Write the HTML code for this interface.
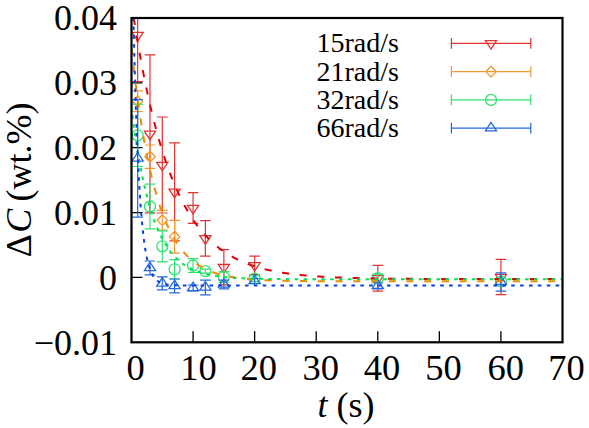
<!DOCTYPE html>
<html><head><meta charset="utf-8"><style>
html,body{margin:0;padding:0;background:#fff;}
body{width:589px;height:428px;overflow:hidden;font-family:"Liberation Serif",serif;}
svg{display:block;}
</style></head><body>
<svg width="589" height="428" viewBox="0 0 589 428">
<defs><clipPath id="clip"><rect x="131.5" y="18.0" width="431.0" height="324.3"/></clipPath></defs>
<rect width="589" height="428" fill="#fff"/>
<path d="M193.07 342.3V331.3 M254.64 342.3V331.3 M316.21 342.3V331.3 M377.79 342.3V331.3 M439.36 342.3V331.3 M500.93 342.3V331.3 M131.5 82.86H142.5 M131.5 147.72H142.5 M131.5 212.58H142.5 M131.5 277.44H142.5" stroke="#000" stroke-width="1.3" fill="none"/>
<g clip-path="url(#clip)">
<path d="M137.66 18.00V81.50M132.36 81.50H142.96" stroke="#e03434" stroke-width="1.2" fill="none"/>
<path d="M132.06 32.30H143.26L137.66 40.80Z" stroke="#e03434" stroke-width="1.3" fill="none"/>
<path d="M149.97 54.90V212.90M144.67 54.90H155.27M144.67 212.90H155.27" stroke="#e03434" stroke-width="1.2" fill="none"/>
<path d="M144.37 131.20H155.57L149.97 139.70Z" stroke="#e03434" stroke-width="1.3" fill="none"/>
<path d="M162.29 117.00V213.00M156.99 117.00H167.59M156.99 213.00H167.59" stroke="#e03434" stroke-width="1.2" fill="none"/>
<path d="M156.69 162.30H167.89L162.29 170.80Z" stroke="#e03434" stroke-width="1.3" fill="none"/>
<path d="M174.60 142.90V240.90M169.30 142.90H179.90M169.30 240.90H179.90" stroke="#e03434" stroke-width="1.2" fill="none"/>
<path d="M169.00 189.20H180.20L174.60 197.70Z" stroke="#e03434" stroke-width="1.3" fill="none"/>
<path d="M193.07 192.60V223.40M187.77 192.60H198.37M187.77 223.40H198.37" stroke="#e03434" stroke-width="1.2" fill="none"/>
<path d="M187.47 205.30H198.67L193.07 213.80Z" stroke="#e03434" stroke-width="1.3" fill="none"/>
<path d="M205.39 220.70V256.10M200.09 220.70H210.69M200.09 256.10H210.69" stroke="#e03434" stroke-width="1.2" fill="none"/>
<path d="M199.79 235.70H210.99L205.39 244.20Z" stroke="#e03434" stroke-width="1.3" fill="none"/>
<path d="M223.86 249.60V284.80M218.56 249.60H229.16M218.56 284.80H229.16" stroke="#e03434" stroke-width="1.2" fill="none"/>
<path d="M218.26 264.50H229.46L223.86 273.00Z" stroke="#e03434" stroke-width="1.3" fill="none"/>
<path d="M254.64 256.10V274.50M249.34 256.10H259.94M249.34 274.50H259.94" stroke="#e03434" stroke-width="1.2" fill="none"/>
<path d="M249.04 262.60H260.24L254.64 271.10Z" stroke="#e03434" stroke-width="1.3" fill="none"/>
<path d="M377.79 265.30V291.10M372.49 265.30H383.09M372.49 291.10H383.09" stroke="#e03434" stroke-width="1.2" fill="none"/>
<path d="M372.19 275.50H383.39L377.79 284.00Z" stroke="#e03434" stroke-width="1.3" fill="none"/>
<path d="M500.93 259.40V294.60M495.63 259.40H506.23M495.63 294.60H506.23" stroke="#e03434" stroke-width="1.2" fill="none"/>
<path d="M495.33 274.30H506.53L500.93 282.80Z" stroke="#e03434" stroke-width="1.3" fill="none"/>
<path d="M137.66 90.90V111.50M132.36 90.90H142.96M132.36 111.50H142.96" stroke="#f09a30" stroke-width="1.2" fill="none"/>
<path d="M137.66 95.80L142.86 101.20L137.66 106.60L132.46 101.20Z" stroke="#f09a30" stroke-width="1.3" fill="none"/>
<path d="M149.97 145.00V168.40M144.67 145.00H155.27M144.67 168.40H155.27" stroke="#f09a30" stroke-width="1.2" fill="none"/>
<path d="M149.97 151.30L155.17 156.70L149.97 162.10L144.77 156.70Z" stroke="#f09a30" stroke-width="1.3" fill="none"/>
<path d="M162.29 210.40V230.00M156.99 210.40H167.59M156.99 230.00H167.59" stroke="#f09a30" stroke-width="1.2" fill="none"/>
<path d="M162.29 214.80L167.49 220.20L162.29 225.60L157.09 220.20Z" stroke="#f09a30" stroke-width="1.3" fill="none"/>
<path d="M174.60 220.30V253.10M169.30 220.30H179.90M169.30 253.10H179.90" stroke="#f09a30" stroke-width="1.2" fill="none"/>
<path d="M174.60 231.30L179.80 236.70L174.60 242.10L169.40 236.70Z" stroke="#f09a30" stroke-width="1.3" fill="none"/>
<path d="M137.66 104.10V166.50M132.36 104.10H142.96M132.36 166.50H142.96" stroke="#30e072" stroke-width="1.2" fill="none"/>
<circle cx="137.66" cy="135.30" r="5.5" stroke="#30e072" stroke-width="1.3" fill="none"/>
<path d="M149.97 184.20V228.80M144.67 184.20H155.27M144.67 228.80H155.27" stroke="#30e072" stroke-width="1.2" fill="none"/>
<circle cx="149.97" cy="206.50" r="5.5" stroke="#30e072" stroke-width="1.3" fill="none"/>
<path d="M162.29 230.80V261.80M156.99 230.80H167.59M156.99 261.80H167.59" stroke="#30e072" stroke-width="1.2" fill="none"/>
<circle cx="162.29" cy="246.30" r="5.5" stroke="#30e072" stroke-width="1.3" fill="none"/>
<path d="M174.60 259.60V279.00M169.30 259.60H179.90M169.30 279.00H179.90" stroke="#30e072" stroke-width="1.2" fill="none"/>
<circle cx="174.60" cy="269.30" r="5.5" stroke="#30e072" stroke-width="1.3" fill="none"/>
<path d="M193.07 258.60V272.40M187.77 258.60H198.37M187.77 272.40H198.37" stroke="#30e072" stroke-width="1.2" fill="none"/>
<circle cx="193.07" cy="265.50" r="5.5" stroke="#30e072" stroke-width="1.3" fill="none"/>
<path d="M205.39 269.10V273.10M200.09 269.10H210.69M200.09 273.10H210.69" stroke="#30e072" stroke-width="1.2" fill="none"/>
<circle cx="205.39" cy="271.10" r="5.5" stroke="#30e072" stroke-width="1.3" fill="none"/>
<path d="M223.86 271.70V282.30M218.56 271.70H229.16M218.56 282.30H229.16" stroke="#30e072" stroke-width="1.2" fill="none"/>
<circle cx="223.86" cy="277.00" r="5.5" stroke="#30e072" stroke-width="1.3" fill="none"/>
<path d="M254.64 275.60V281.60M249.34 275.60H259.94M249.34 281.60H259.94" stroke="#30e072" stroke-width="1.2" fill="none"/>
<circle cx="254.64" cy="278.60" r="5.5" stroke="#30e072" stroke-width="1.3" fill="none"/>
<path d="M377.79 274.20V282.20M372.49 274.20H383.09M372.49 282.20H383.09" stroke="#30e072" stroke-width="1.2" fill="none"/>
<circle cx="377.79" cy="278.20" r="5.5" stroke="#30e072" stroke-width="1.3" fill="none"/>
<path d="M500.93 278.40V284.40M495.63 278.40H506.23M495.63 284.40H506.23" stroke="#30e072" stroke-width="1.2" fill="none"/>
<circle cx="500.93" cy="281.40" r="5.5" stroke="#30e072" stroke-width="1.3" fill="none"/>
<path d="M137.66 99.70V217.20M132.36 99.70H142.96M132.36 217.20H142.96" stroke="#2468dc" stroke-width="1.2" fill="none"/>
<path d="M132.06 161.15H143.26L137.66 152.65Z" stroke="#2468dc" stroke-width="1.3" fill="none"/>
<path d="M149.97 261.00V274.80M144.67 261.00H155.27M144.67 274.80H155.27" stroke="#2468dc" stroke-width="1.2" fill="none"/>
<path d="M144.37 270.60H155.57L149.97 262.10Z" stroke="#2468dc" stroke-width="1.3" fill="none"/>
<path d="M162.29 276.90V289.90M156.99 276.90H167.59M156.99 289.90H167.59" stroke="#2468dc" stroke-width="1.2" fill="none"/>
<path d="M156.69 286.10H167.89L162.29 277.60Z" stroke="#2468dc" stroke-width="1.3" fill="none"/>
<path d="M174.60 279.00V292.80M169.30 279.00H179.90M169.30 292.80H179.90" stroke="#2468dc" stroke-width="1.2" fill="none"/>
<path d="M169.00 288.60H180.20L174.60 280.10Z" stroke="#2468dc" stroke-width="1.3" fill="none"/>
<path d="M193.07 285.00V291.00M187.77 285.00H198.37M187.77 291.00H198.37" stroke="#2468dc" stroke-width="1.2" fill="none"/>
<path d="M187.47 290.70H198.67L193.07 282.20Z" stroke="#2468dc" stroke-width="1.3" fill="none"/>
<path d="M205.39 280.20V294.80M200.09 280.20H210.69M200.09 294.80H210.69" stroke="#2468dc" stroke-width="1.2" fill="none"/>
<path d="M199.79 290.20H210.99L205.39 281.70Z" stroke="#2468dc" stroke-width="1.3" fill="none"/>
<path d="M223.86 280.20V288.80M218.56 280.20H229.16M218.56 288.80H229.16" stroke="#2468dc" stroke-width="1.2" fill="none"/>
<path d="M218.26 287.20H229.46L223.86 278.70Z" stroke="#2468dc" stroke-width="1.3" fill="none"/>
<path d="M254.64 278.50V283.50M249.34 278.50H259.94M249.34 283.50H259.94" stroke="#2468dc" stroke-width="1.2" fill="none"/>
<path d="M249.04 283.70H260.24L254.64 275.20Z" stroke="#2468dc" stroke-width="1.3" fill="none"/>
<path d="M377.79 283.00V288.60M372.49 283.00H383.09M372.49 288.60H383.09" stroke="#2468dc" stroke-width="1.2" fill="none"/>
<path d="M372.19 288.50H383.39L377.79 280.00Z" stroke="#2468dc" stroke-width="1.3" fill="none"/>
<path d="M500.93 272.85V291.15M495.63 272.85H506.23M495.63 291.15H506.23" stroke="#2468dc" stroke-width="1.2" fill="none"/>
<path d="M495.33 284.70H506.53L500.93 276.20Z" stroke="#2468dc" stroke-width="1.3" fill="none"/>
</g>
<path d="M133.83 18.00 133.92 18.59 134.02 19.18 134.11 19.78 134.20 20.37 134.29 20.96 134.38 21.55 134.47 22.15 134.57 22.74 134.66 23.33 134.75 23.92 134.85 24.51 134.94 25.11 135.03 25.70 135.13 26.29 135.22 26.88 135.31 27.47 135.41 28.07 135.50 28.66 135.60 29.25 135.69 29.84 135.79 30.43 135.88 31.02 135.98 31.62 136.07 32.21 136.17 32.80 136.27 33.39 136.36 33.98 136.46 34.57 136.56 35.17 136.65 35.76 136.75 36.35 136.85 36.94 136.95 37.53 137.04 38.12 137.14 38.71 137.24 39.30 137.34 39.90 137.44 40.49 137.54 41.08 137.64 41.67 137.74 42.26 137.84 42.85 137.94 43.44 138.04 44.03 138.14 44.62 138.24 45.21 138.34 45.80 138.44 46.39 138.54 46.98 138.65 47.58 138.75 48.17 138.85 48.76 138.95 49.35 139.06 49.94 139.16 50.53 139.26 51.12 139.37 51.71 139.47 52.30 139.58 52.89 139.68 53.48 139.79 54.07 139.89 54.66 140.00 55.25 140.10 55.84 140.21 56.43 140.31 57.02 140.42 57.61 140.53 58.20 140.63 58.79 140.74 59.38 140.85 59.97 140.96 60.55 141.06 61.14 141.17 61.73 141.28 62.32 141.39 62.91 141.50 63.50 141.61 64.09 141.72 64.68 141.83 65.27 141.94 65.86 142.05 66.45 142.16 67.03 142.27 67.62 142.38 68.21 142.50 68.80 142.61 69.39 142.72 69.98 142.83 70.57 142.95 71.15 143.06 71.74 143.17 72.33 143.29 72.92 143.40 73.51 143.52 74.10 143.63 74.68 143.75 75.27 143.86 75.86 143.98 76.45 144.10 77.04 144.21 77.62 144.33 78.21 144.45 78.80 144.56 79.39 144.68 79.97 144.80 80.56 144.92 81.15 145.04 81.74 145.16 82.32 145.28 82.91 145.40 83.50 145.52 84.08 145.64 84.67 145.76 85.26 145.88 85.84 146.00 86.43 146.12 87.02 146.25 87.60 146.37 88.19 146.49 88.78 146.62 89.36 146.74 89.95 146.86 90.53 146.99 91.12 147.11 91.71 147.24 92.29 147.36 92.88 147.49 93.46 147.62 94.05 147.74 94.63 147.87 95.22 148.00 95.81 148.13 96.39 148.26 96.98 148.38 97.56 148.51 98.15 148.64 98.73 148.77 99.32 148.90 99.90 149.03 100.49 149.17 101.07 149.30 101.65 149.43 102.24 149.56 102.82 149.69 103.41 149.83 103.99 149.96 104.57 150.10 105.16 150.23 105.74 150.37 106.33 150.50 106.91 150.64 107.49 150.77 108.08 150.91 108.66 151.05 109.24 151.19 109.83 151.32 110.41 151.46 110.99 151.60 111.57 151.74 112.16 151.88 112.74 152.02 113.32 152.16 113.90 152.30 114.49 152.44 115.07 152.59 115.65 152.73 116.23 152.87 116.81 153.02 117.39 153.16 117.98 153.31 118.56 153.45 119.14 153.60 119.72 153.74 120.30 153.89 120.88 154.04 121.46 154.18 122.04 154.33 122.62 154.48 123.20 154.63 123.78 154.78 124.36 154.93 124.94 155.08 125.52 155.23 126.10 155.38 126.68 155.54 127.26 155.69 127.84 155.84 128.42 156.00 129.00 156.15 129.57 156.31 130.15 156.46 130.73 156.62 131.31 156.78 131.89 156.93 132.47 157.09 133.04 157.25 133.62 157.41 134.20 157.57 134.78 157.73 135.35 157.89 135.93 158.05 136.51 158.21 137.08 158.38 137.66 158.54 138.23 158.70 138.81 158.87 139.39 159.03 139.96 159.20 140.54 159.37 141.11 159.53 141.69 159.70 142.26 159.87 142.84 160.04 143.41 160.21 143.99 160.38 144.56 160.55 145.13 160.72 145.71 160.90 146.28 161.07 146.85 161.24 147.43 161.42 148.00 161.59 148.57 161.77 149.14 161.95 149.72 162.12 150.29 162.30 150.86 162.48 151.43 162.66 152.00 162.84 152.57 163.02 153.14 163.20 153.72 163.38 154.29 163.57 154.86 163.75 155.43 163.94 155.99 164.12 156.56 164.31 157.13 164.50 157.70 164.68 158.27 164.87 158.84 165.06 159.41 165.25 159.97 165.44 160.54 165.64 161.11 165.83 161.68 166.02 162.24 166.22 162.81 166.41 163.37 166.61 163.94 166.81 164.51 167.00 165.07 167.20 165.63 167.40 166.20 167.60 166.76 167.80 167.33 168.01 167.89 168.21 168.45 168.41 169.02 168.62 169.58 168.82 170.14 169.03 170.70 169.24 171.26 169.45 171.82 169.66 172.39 169.87 172.95 170.08 173.51 170.29 174.07 170.51 174.62 170.72 175.18 170.94 175.74 171.15 176.30 171.37 176.86 171.59 177.41 171.81 177.97 172.03 178.53 172.25 179.08 172.48 179.64 172.70 180.19 172.93 180.75 173.15 181.30 173.38 181.86 173.61 182.41 173.84 182.96 174.07 183.51 174.30 184.07 174.53 184.62 174.77 185.17 175.00 185.72 175.24 186.27 175.48 186.82 175.72 187.37 175.96 187.91 176.20 188.46 176.44 189.01 176.68 189.56 176.93 190.10 177.17 190.65 177.42 191.19 177.67 191.74 177.92 192.28 178.17 192.82 178.42 193.37 178.68 193.91 178.93 194.45 179.19 194.99 179.45 195.53 179.71 196.07 179.97 196.61 180.23 197.15 180.49 197.68 180.76 198.22 181.02 198.76 181.29 199.29 181.56 199.83 181.83 200.36 182.10 200.89 182.38 201.43 182.65 201.96 182.93 202.49 183.21 203.02 183.49 203.55 183.77 204.07 184.05 204.60 184.33 205.13 184.62 205.65 184.91 206.18 185.19 206.70 185.48 207.23 185.78 207.75 186.07 208.27 186.37 208.79 186.66 209.31 186.96 209.83 187.26 210.35 187.56 210.86 187.87 211.38 188.17 211.89 188.48 212.41 188.79 212.92 189.10 213.43 189.41 213.94 189.73 214.45 190.04 214.96 190.36 215.46 190.68 215.97 191.00 216.47 191.32 216.98 191.65 217.48 191.98 217.98 192.30 218.48 192.64 218.98 192.97 219.48 193.30 219.97 193.64 220.47 193.98 220.96 194.32 221.45 194.66 221.94 195.00 222.43 195.35 222.92 195.70 223.41 196.05 223.89 196.40 224.38 196.76 224.86 197.11 225.34 197.47 225.82 197.83 226.29 198.19 226.77 198.56 227.25 198.93 227.72 199.29 228.19 199.67 228.66 200.04 229.13 200.41 229.59 200.79 230.06 201.17 230.52 201.55 230.98 201.94 231.44 202.32 231.90 202.71 232.35 203.10 232.80 203.49 233.26 203.89 233.71 204.28 234.15 204.68 234.60 205.09 235.04 205.49 235.48 205.89 235.92 206.30 236.36 206.71 236.80 207.13 237.23 207.54 237.66 207.96 238.09 208.38 238.52 208.80 238.94 209.22 239.37 209.65 239.79 210.08 240.20 210.51 240.62 210.94 241.03 211.37 241.44 211.81 241.85 212.25 242.26 212.69 242.66 213.14 243.07 213.58 243.46 214.03 243.86 214.48 244.25 214.93 244.65 215.39 245.04 215.85 245.42 216.30 245.81 216.77 246.19 217.23 246.57 217.70 246.94 218.16 247.32 218.63 247.69 219.11 248.05 219.58 248.42 220.06 248.78 220.53 249.14 221.02 249.50 221.50 249.85 221.98 250.21 222.47 250.55 222.96 250.90 223.45 251.24 223.94 251.58 224.44 251.92 224.93 252.26 225.43 252.59 225.93 252.92 226.43 253.24 226.94 253.57 227.44 253.89 227.95 254.20 228.46 254.52 228.97 254.83 229.49 255.14 230.00 255.45 230.52 255.75 231.04 256.05 231.56 256.35 232.08 256.64 232.60 256.93 233.13 257.22 233.65 257.51 234.18 257.79 234.71 258.07 235.24 258.35 235.77 258.62 236.31 258.89 236.84 259.16 237.38 259.43 237.92 259.69 238.46 259.95 239.00 260.20 239.54 260.46 240.09 260.71 240.63 260.96 241.18 261.20 241.73 261.45 242.28 261.69 242.83 261.93 243.38 262.16 243.93 262.39 244.49 262.62 245.04 262.85 245.60 263.07 246.15 263.29 246.71 263.51 247.27 263.73 247.83 263.94 248.39 264.15 248.95 264.36 249.52 264.57 250.08 264.77 250.65 264.97 251.21 265.17 251.78 265.36 252.35 265.56 252.92 265.75 253.49 265.93 254.06 266.12 254.63 266.30 255.20 266.49 255.77 266.66 256.34 266.84 256.92 267.01 257.49 267.19 258.07 267.36 258.64 267.52 259.22 267.69 259.80 267.85 260.37 268.01 260.95 268.17 261.53 268.33 262.11 268.48 262.69 268.64 263.27 268.79 263.85 268.93 264.43 269.08 265.02 269.22 265.60 269.37 266.18 269.51 266.77 269.65 267.35 269.78 267.93 269.92 268.52 270.05 269.10 270.18 269.69 270.31 270.28 270.44 270.86 270.56 271.45 270.69 272.04 270.81 272.62 270.93 273.21 271.05 273.80 271.17 274.39 271.28 274.98 271.40 275.57 271.51 276.16 271.62 276.75 271.73 277.34 271.84 277.93 271.94 278.52 272.05 279.11 272.15 279.70 272.25 280.29 272.35 280.88 272.45 281.47 272.55 282.07 272.64 282.66 272.74 283.25 272.83 283.84 272.92 284.44 273.01 285.03 273.10 285.62 273.19 286.22 273.28 286.81 273.36 287.41 273.45 288.00 273.53 288.59 273.61 289.19 273.69 289.78 273.77 290.38 273.85 290.97 273.93 291.57 274.00 292.16 274.08 292.76 274.15 293.35 274.22 293.95 274.30 294.55 274.37 295.14 274.44 295.74 274.50 296.33 274.57 296.93 274.64 297.53 274.70 298.12 274.77 298.72 274.83 299.32 274.90 299.91 274.96 300.51 275.02 301.11 275.08 301.70 275.14 302.30 275.20 302.90 275.25 303.50 275.31 304.09 275.37 304.69 275.42 305.29 275.48 305.89 275.53 306.48 275.58 307.08 275.63 307.68 275.68 308.28 275.74 308.87 275.78 309.47 275.83 310.07 275.88 310.67 275.93 311.27 275.98 311.87 276.02 312.46 276.07 313.06 276.11 313.66 276.16 314.26 276.20 314.86 276.24 315.46 276.28 316.05 276.33 316.65 276.37 317.25 276.41 317.85 276.45 318.45 276.49 319.05 276.52 319.65 276.56 320.25 276.60 320.84 276.64 321.44 276.67 322.04 276.71 322.64 276.74 323.24 276.78 323.84 276.81 324.44 276.85 325.04 276.88 325.64 276.91 326.24 276.94 326.83 276.98 327.43 277.01 328.03 277.04 328.63 277.07 329.23 277.10 329.83 277.13 330.43 277.16 331.03 277.19 331.63 277.21 332.23 277.24 332.83 277.27 333.43 277.30 334.03 277.32 334.63 277.35 335.22 277.37 335.82 277.40 336.42 277.42 337.02 277.45 337.62 277.47 338.22 277.50 338.82 277.52 339.42 277.54 340.02 277.57 340.62 277.59 341.22 277.61 341.82 277.63 342.42 277.65 343.02 277.68 343.62 277.70 344.22 277.72 344.82 277.74 345.42 277.76 346.02 277.78 346.62 277.80 347.22 277.82 347.82 277.83 348.42 277.85 349.02 277.87 349.62 277.89 350.22 277.91 350.82 277.92 351.42 277.94 352.01 277.96 352.61 277.97 353.21 277.99 353.81 278.01 354.41 278.02 355.01 278.04 355.61 278.05 356.21 278.07 356.81 278.08 357.41 278.10 358.01 278.11 358.61 278.13 359.21 278.14 359.81 278.16 360.41 278.17 361.01 278.18 361.61 278.20 362.21 278.21 362.81 278.22 363.41 278.24 364.01 278.25 364.61 278.26 365.21 278.27 365.81 278.29 366.41 278.30 367.01 278.31 367.61 278.32 368.21 278.33 368.81 278.34 369.41 278.35 370.01 278.36 370.61 278.38 371.21 278.39 371.81 278.40 372.41 278.41 373.01 278.42 373.61 278.43 374.21 278.44 374.81 278.45 375.41 278.45 376.01 278.46 376.61 278.47 377.21 278.48 377.81 278.49 378.41 278.50 379.01 278.51 379.61 278.52 380.21 278.53 380.81 278.53 381.41 278.54 382.01 278.55 382.61 278.56 383.21 278.57 383.81 278.57 384.41 278.58 385.01 278.59 385.61 278.60 386.21 278.60 386.81 278.61 387.41 278.62 388.01 278.62 388.61 278.63 389.21 278.64 389.81 278.64 390.41 278.65 391.01 278.66 391.61 278.66 392.21 278.67 392.81 278.68 393.41 278.68 394.01 278.69 394.61 278.69 395.21 278.70 395.81 278.70 396.41 278.71 397.01 278.72 397.61 278.72 398.21 278.73 398.81 278.73 399.41 278.74 400.01 278.74 400.61 278.75 401.21 278.75 401.81 278.76 402.41 278.76 403.01 278.77 403.61 278.77 404.21 278.78 404.81 278.78 405.41 278.78 406.01 278.79 406.61 278.79 407.21 278.80 407.81 278.80 408.41 278.81 409.01 278.81 409.61 278.81 410.21 278.82 410.81 278.82 411.41 278.83 412.01 278.83 412.61 278.83 413.21 278.84 413.81 278.84 414.41 278.84 415.01 278.85 415.61 278.85 416.21 278.85 416.81 278.86 417.41 278.86 418.01 278.86 418.61 278.87 419.21 278.87 419.81 278.87 420.41 278.88 421.01 278.88 421.61 278.88 422.21 278.89 422.81 278.89 423.41 278.89 424.01 278.89 424.61 278.90 425.21 278.90 425.81 278.90 426.41 278.91 427.01 278.91 427.61 278.91 428.21 278.91 428.81 278.92 429.41 278.92 430.01 278.92 430.61 278.92 431.21 278.92 431.81 278.93 432.41 278.93 433.01 278.93 433.61 278.93 434.21 278.94 434.81 278.94 435.41 278.94 436.01 278.94 436.61 278.94 437.21 278.95 437.81 278.95 438.41 278.95 439.01 278.95 439.61 278.95 440.21 278.96 440.81 278.96 441.41 278.96 442.01 278.96 442.61 278.96 443.21 278.97 443.81 278.97 444.41 278.97 445.01 278.97 445.61 278.97 446.21 278.97 446.81 278.97 447.41 278.98 448.01 278.98 448.61 278.98 449.21 278.98 449.81 278.98 450.41 278.98 451.01 278.99 451.61 278.99 452.21 278.99 452.81 278.99 453.41 278.99 454.01 278.99 454.61 278.99 455.21 278.99 455.81 279.00 456.41 279.00 457.01 279.00 457.61 279.00 458.21 279.00 458.81 279.00 459.41 279.00 460.01 279.00 460.61 279.01 461.21 279.01 461.81 279.01 462.41 279.01 463.01 279.01 463.61 279.01 464.21 279.01 464.81 279.01 465.41 279.01 466.01 279.01 466.61 279.02 467.21 279.02 467.81 279.02 468.41 279.02 469.01 279.02 469.61 279.02 470.21 279.02 470.81 279.02 471.41 279.02 472.01 279.02 472.61 279.02 473.21 279.03 473.81 279.03 474.41 279.03 475.01 279.03 475.61 279.03 476.21 279.03 476.81 279.03 477.41 279.03 478.01 279.03 478.61 279.03 479.21 279.03 479.81 279.03 480.41 279.03 481.01 279.04 481.61 279.04 482.21 279.04 482.81 279.04 483.41 279.04 484.01 279.04 484.61 279.04 485.21 279.04 485.81 279.04 486.41 279.04 487.01 279.04 487.61 279.04 488.21 279.04 488.81 279.04 489.41 279.04 490.01 279.04 490.61 279.04 491.21 279.05 491.81 279.05 492.41 279.05 493.01 279.05 493.61 279.05 494.21 279.05 494.81 279.05 495.41 279.05 496.01 279.05 496.61 279.05 497.21 279.05 497.81 279.05 498.41 279.05 499.01 279.05 499.61 279.05 500.21 279.05 500.81 279.05 501.41 279.05 502.01 279.05 502.61 279.05 503.21 279.05 503.81 279.05 504.41 279.06 505.01 279.06 505.61 279.06 506.21 279.06 506.81 279.06 507.41 279.06 508.01 279.06 508.61 279.06 509.21 279.06 509.81 279.06 510.41 279.06 511.01 279.06 511.61 279.06 512.21 279.06 512.81 279.06 513.41 279.06 514.01 279.06 514.61 279.06 515.21 279.06 515.81 279.06 516.41 279.06 517.01 279.06 517.61 279.06 518.21 279.06 518.81 279.06 519.41 279.06 520.01 279.06 520.61 279.06 521.21 279.06 521.81 279.06 522.41 279.06 523.01 279.06 523.61 279.06 524.21 279.06 524.81 279.07 525.41 279.07 526.01 279.07 526.61 279.07 527.21 279.07 527.81 279.07 528.41 279.07 529.01 279.07 529.61 279.07 530.21 279.07 530.81 279.07 531.41 279.07 532.01 279.07 532.61 279.07 533.21 279.07 533.81 279.07 534.41 279.07 535.01 279.07 535.61 279.07 536.21 279.07 536.81 279.07 537.41 279.07 538.01 279.07 538.61 279.07 539.21 279.07 539.81 279.07 540.41 279.07 541.01 279.07 541.61 279.07 542.21 279.07 542.81 279.07 543.41 279.07 544.01 279.07 544.61 279.07 545.21 279.07 545.81 279.07 546.41 279.07 547.01 279.07 547.61 279.07 548.21 279.07 548.81 279.07 549.41 279.07 550.01 279.07 550.61 279.07 551.21 279.07 551.81 279.07 552.41 279.07 553.01 279.07 553.61 279.07 554.21 279.07 554.81 279.07 555.41 279.07 556.01 279.07 556.61 279.07 557.21 279.07 557.81 279.07 558.41 279.07 559.01 279.07 559.61 279.07 560.21 279.07 560.81 279.07 561.41 279.07 562.01 279.07 562.50 279.07" stroke="#e00008" stroke-width="2" fill="none" stroke-dasharray="7.1 10.614" stroke-dashoffset="0.22" clip-path="url(#clip)"/>
<path d="M131.50 48.45 131.56 49.05 131.63 49.64 131.69 50.24 131.76 50.83 131.82 51.43 131.89 52.02 131.95 52.62 132.02 53.22 132.09 53.81 132.15 54.41 132.22 55.00 132.28 55.60 132.35 56.19 132.42 56.79 132.48 57.38 132.55 57.98 132.62 58.58 132.69 59.17 132.75 59.77 132.82 60.36 132.89 60.96 132.96 61.55 133.02 62.15 133.09 62.74 133.16 63.34 133.23 63.93 133.30 64.53 133.37 65.12 133.44 65.72 133.51 66.31 133.58 66.91 133.65 67.50 133.72 68.10 133.79 68.69 133.86 69.29 133.93 69.88 134.00 70.48 134.07 71.07 134.14 71.67 134.21 72.26 134.28 72.86 134.36 73.45 134.43 74.05 134.50 74.64 134.57 75.24 134.65 75.83 134.72 76.43 134.79 77.02 134.87 77.62 134.94 78.21 135.01 78.81 135.09 79.40 135.16 79.99 135.23 80.59 135.31 81.18 135.38 81.78 135.46 82.37 135.53 82.97 135.61 83.56 135.69 84.16 135.76 84.75 135.84 85.34 135.91 85.94 135.99 86.53 136.07 87.13 136.14 87.72 136.22 88.32 136.30 88.91 136.38 89.50 136.46 90.10 136.53 90.69 136.61 91.29 136.69 91.88 136.77 92.47 136.85 93.07 136.93 93.66 137.01 94.25 137.09 94.85 137.17 95.44 137.25 96.04 137.33 96.63 137.41 97.22 137.49 97.82 137.57 98.41 137.65 99.00 137.74 99.60 137.82 100.19 137.90 100.78 137.98 101.38 138.07 101.97 138.15 102.56 138.23 103.16 138.32 103.75 138.40 104.34 138.49 104.93 138.57 105.53 138.66 106.12 138.74 106.71 138.83 107.31 138.91 107.90 139.00 108.49 139.08 109.08 139.17 109.68 139.26 110.27 139.35 110.86 139.43 111.46 139.52 112.05 139.61 112.64 139.70 113.23 139.79 113.83 139.88 114.42 139.97 115.01 140.05 115.60 140.14 116.19 140.24 116.79 140.33 117.38 140.42 117.97 140.51 118.56 140.60 119.15 140.69 119.75 140.78 120.34 140.88 120.93 140.97 121.52 141.06 122.11 141.16 122.70 141.25 123.30 141.34 123.89 141.44 124.48 141.53 125.07 141.63 125.66 141.73 126.25 141.82 126.84 141.92 127.43 142.01 128.03 142.11 128.62 142.21 129.21 142.31 129.80 142.40 130.39 142.50 130.98 142.60 131.57 142.70 132.16 142.80 132.75 142.90 133.34 143.00 133.93 143.10 134.52 143.20 135.11 143.31 135.70 143.41 136.29 143.51 136.88 143.61 137.47 143.72 138.06 143.82 138.65 143.92 139.24 144.03 139.83 144.13 140.42 144.24 141.01 144.35 141.60 144.45 142.19 144.56 142.78 144.67 143.37 144.77 143.96 144.88 144.55 144.99 145.13 145.10 145.72 145.21 146.31 145.32 146.90 145.43 147.49 145.54 148.08 145.65 148.67 145.76 149.25 145.87 149.84 145.99 150.43 146.10 151.02 146.21 151.61 146.33 152.19 146.44 152.78 146.56 153.37 146.67 153.96 146.79 154.54 146.91 155.13 147.02 155.72 147.14 156.30 147.26 156.89 147.38 157.48 147.50 158.06 147.62 158.65 147.74 159.24 147.86 159.82 147.98 160.41 148.10 161.00 148.23 161.58 148.35 162.17 148.47 162.75 148.60 163.34 148.72 163.92 148.85 164.51 148.97 165.09 149.10 165.68 149.23 166.26 149.36 166.85 149.49 167.43 149.62 168.02 149.75 168.60 149.88 169.19 150.01 169.77 150.14 170.35 150.27 170.94 150.40 171.52 150.54 172.10 150.67 172.69 150.81 173.27 150.94 173.85 151.08 174.44 151.22 175.02 151.36 175.60 151.50 176.18 151.64 176.76 151.78 177.35 151.92 177.93 152.06 178.51 152.20 179.09 152.34 179.67 152.49 180.25 152.63 180.83 152.78 181.41 152.93 181.99 153.07 182.57 153.22 183.15 153.37 183.73 153.52 184.31 153.67 184.89 153.82 185.47 153.97 186.05 154.13 186.63 154.28 187.20 154.43 187.78 154.59 188.36 154.75 188.94 154.90 189.51 155.06 190.09 155.22 190.67 155.38 191.24 155.54 191.82 155.71 192.40 155.87 192.97 156.03 193.55 156.20 194.12 156.37 194.70 156.53 195.27 156.70 195.84 156.87 196.42 157.04 196.99 157.21 197.56 157.38 198.14 157.56 198.71 157.73 199.28 157.91 199.85 158.09 200.42 158.26 201.00 158.44 201.57 158.62 202.14 158.80 202.71 158.99 203.28 159.17 203.84 159.36 204.41 159.54 204.98 159.73 205.55 159.92 206.12 160.11 206.68 160.30 207.25 160.49 207.82 160.69 208.38 160.88 208.95 161.08 209.51 161.28 210.08 161.48 210.64 161.68 211.20 161.88 211.76 162.09 212.33 162.29 212.89 162.50 213.45 162.71 214.01 162.92 214.57 163.13 215.13 163.34 215.69 163.56 216.24 163.77 216.80 163.99 217.36 164.21 217.91 164.43 218.47 164.65 219.02 164.88 219.58 165.10 220.13 165.33 220.68 165.56 221.24 165.79 221.79 166.03 222.34 166.26 222.89 166.50 223.43 166.74 223.98 166.98 224.53 167.22 225.08 167.47 225.62 167.71 226.16 167.96 226.71 168.21 227.25 168.47 227.79 168.72 228.33 168.98 228.87 169.24 229.41 169.50 229.95 169.76 230.48 170.03 231.02 170.30 231.55 170.57 232.09 170.84 232.62 171.11 233.15 171.39 233.68 171.67 234.20 171.95 234.73 172.24 235.26 172.53 235.78 172.82 236.30 173.11 236.82 173.40 237.34 173.70 237.86 174.00 238.38 174.31 238.89 174.61 239.40 174.92 239.92 175.23 240.42 175.54 240.93 175.86 241.44 176.18 241.94 176.50 242.45 176.83 242.95 177.16 243.45 177.49 243.94 177.83 244.44 178.16 244.93 178.50 245.42 178.85 245.91 179.20 246.39 179.55 246.88 179.90 247.36 180.26 247.84 180.62 248.31 180.98 248.79 181.35 249.26 181.72 249.73 182.09 250.20 182.47 250.66 182.85 251.12 183.23 251.58 183.62 252.03 184.01 252.48 184.40 252.93 184.80 253.38 185.20 253.82 185.61 254.26 186.01 254.70 186.43 255.13 186.84 255.56 187.26 255.99 187.68 256.41 188.11 256.83 188.54 257.24 188.97 257.65 189.41 258.06 189.85 258.47 190.29 258.87 190.74 259.26 191.19 259.66 191.64 260.04 192.10 260.43 192.56 260.81 193.03 261.18 193.49 261.56 193.97 261.92 194.44 262.29 194.92 262.65 195.40 263.00 195.89 263.35 196.37 263.70 196.86 264.04 197.36 264.38 197.86 264.71 198.36 265.04 198.86 265.36 199.37 265.68 199.87 265.99 200.39 266.30 200.90 266.61 201.42 266.91 201.94 267.20 202.46 267.50 202.99 267.78 203.52 268.06 204.05 268.34 204.58 268.61 205.11 268.88 205.65 269.15 206.19 269.41 206.73 269.66 207.28 269.91 207.82 270.16 208.37 270.40 208.92 270.64 209.47 270.87 210.03 271.10 210.58 271.32 211.14 271.54 211.70 271.76 212.26 271.97 212.82 272.18 213.39 272.38 213.95 272.58 214.52 272.77 215.08 272.97 215.65 273.15 216.22 273.34 216.80 273.52 217.37 273.70 217.94 273.87 218.52 274.04 219.09 274.20 219.67 274.37 220.25 274.52 220.83 274.68 221.41 274.83 221.99 274.98 222.57 275.13 223.15 275.27 223.74 275.41 224.32 275.55 224.90 275.68 225.49 275.81 226.08 275.94 226.66 276.06 227.25 276.19 227.84 276.30 228.43 276.42 229.01 276.54 229.60 276.65 230.19 276.76 230.78 276.86 231.37 276.97 231.96 277.07 232.56 277.17 233.15 277.27 233.74 277.36 234.33 277.46 234.93 277.55 235.52 277.64 236.11 277.72 236.71 277.81 237.30 277.89 237.90 277.97 238.49 278.05 239.08 278.13 239.68 278.20 240.27 278.28 240.87 278.35 241.47 278.42 242.06 278.49 242.66 278.56 243.25 278.62 243.85 278.69 244.45 278.75 245.04 278.81 245.64 278.87 246.24 278.93 246.84 278.98 247.43 279.04 248.03 279.09 248.63 279.15 249.23 279.20 249.82 279.25 250.42 279.30 251.02 279.35 251.62 279.40 252.22 279.44 252.81 279.49 253.41 279.53 254.01 279.57 254.61 279.62 255.21 279.66 255.81 279.70 256.41 279.74 257.00 279.77 257.60 279.81 258.20 279.85 258.80 279.88 259.40 279.92 260.00 279.95 260.60 279.99 261.20 280.02 261.80 280.05 262.40 280.08 262.99 280.11 263.59 280.14 264.19 280.17 264.79 280.20 265.39 280.22 265.99 280.25 266.59 280.28 267.19 280.30 267.79 280.33 268.39 280.35 268.99 280.38 269.59 280.40 270.19 280.42 270.79 280.44 271.39 280.47 271.99 280.49 272.59 280.51 273.19 280.53 273.79 280.55 274.39 280.57 274.99 280.58 275.59 280.60 276.18 280.62 276.78 280.64 277.38 280.65 277.98 280.67 278.58 280.69 279.18 280.70 279.78 280.72 280.38 280.73 280.98 280.75 281.58 280.76 282.18 280.78 282.78 280.79 283.38 280.80 283.98 280.82 284.58 280.83 285.18 280.84 285.78 280.86 286.38 280.87 286.98 280.88 287.58 280.89 288.18 280.90 288.78 280.91 289.38 280.92 289.98 280.93 290.58 280.94 291.18 280.95 291.78 280.96 292.38 280.97 292.98 280.98 293.58 280.99 294.18 281.00 294.78 281.01 295.38 281.02 295.98 281.02 296.58 281.03 297.18 281.04 297.78 281.05 298.38 281.05 298.98 281.06 299.58 281.07 300.18 281.08 300.78 281.08 301.38 281.09 301.98 281.09 302.58 281.10 303.18 281.11 303.78 281.11 304.38 281.12 304.98 281.12 305.58 281.13 306.18 281.14 306.78 281.14 307.38 281.15 307.98 281.15 308.58 281.16 309.18 281.16 309.78 281.17 310.38 281.17 310.98 281.17 311.58 281.18 312.18 281.18 312.78 281.19 313.38 281.19 313.98 281.20 314.58 281.20 315.18 281.20 315.78 281.21 316.38 281.21 316.98 281.21 317.58 281.22 318.18 281.22 318.78 281.22 319.38 281.23 319.98 281.23 320.58 281.23 321.18 281.24 321.78 281.24 322.38 281.24 322.98 281.24 323.58 281.25 324.18 281.25 324.78 281.25 325.38 281.26 325.98 281.26 326.58 281.26 327.18 281.26 327.78 281.26 328.38 281.27 328.98 281.27 329.58 281.27 330.18 281.27 330.78 281.28 331.38 281.28 331.98 281.28 332.58 281.28 333.18 281.28 333.78 281.29 334.38 281.29 334.98 281.29 335.58 281.29 336.18 281.29 336.78 281.29 337.38 281.30 337.98 281.30 338.58 281.30 339.18 281.30 339.78 281.30 340.38 281.30 340.98 281.30 341.58 281.31 342.18 281.31 342.78 281.31 343.38 281.31 343.98 281.31 344.58 281.31 345.18 281.31 345.78 281.31 346.38 281.31 346.98 281.32 347.58 281.32 348.18 281.32 348.78 281.32 349.38 281.32 349.98 281.32 350.58 281.32 351.18 281.32 351.78 281.32 352.38 281.32 352.98 281.33 353.58 281.33 354.18 281.33 354.78 281.33 355.38 281.33 355.98 281.33 356.58 281.33 357.18 281.33 357.78 281.33 358.38 281.33 358.98 281.33 359.58 281.33 360.18 281.33 360.78 281.33 361.38 281.34 361.98 281.34 362.58 281.34 363.18 281.34 363.78 281.34 364.38 281.34 364.98 281.34 365.58 281.34 366.18 281.34 366.78 281.34 367.38 281.34 367.98 281.34 368.58 281.34 369.18 281.34 369.78 281.34 370.38 281.34 370.98 281.34 371.58 281.34 372.18 281.34 372.78 281.34 373.38 281.34 373.98 281.34 374.58 281.35 375.18 281.35 375.78 281.35 376.38 281.35 376.98 281.35 377.58 281.35 378.18 281.35 378.78 281.35 379.38 281.35 379.98 281.35 380.58 281.35 381.18 281.35 381.78 281.35 382.38 281.35 382.98 281.35 383.58 281.35 384.18 281.35 384.78 281.35 385.38 281.35 385.98 281.35 386.58 281.35 387.18 281.35 387.78 281.35 388.38 281.35 388.98 281.35 389.58 281.35 390.18 281.35 390.78 281.35 391.38 281.35 391.98 281.35 392.58 281.35 393.18 281.35 393.78 281.35 394.38 281.35 394.98 281.35 395.58 281.35 396.18 281.35 396.78 281.35 397.38 281.35 397.98 281.35 398.58 281.35 399.18 281.35 399.78 281.35 400.38 281.35 400.98 281.35 401.58 281.35 402.18 281.36 402.78 281.36 403.38 281.36 403.98 281.36 404.58 281.36 405.18 281.36 405.78 281.36 406.38 281.36 406.98 281.36 407.58 281.36 408.18 281.36 408.78 281.36 409.38 281.36 409.98 281.36 410.58 281.36 411.18 281.36 411.78 281.36 412.38 281.36 412.98 281.36 413.58 281.36 414.18 281.36 414.78 281.36 415.38 281.36 415.98 281.36 416.58 281.36 417.18 281.36 417.78 281.36 418.38 281.36 418.98 281.36 419.58 281.36 420.18 281.36 420.78 281.36 421.38 281.36 421.98 281.36 422.58 281.36 423.18 281.36 423.78 281.36 424.38 281.36 424.98 281.36 425.58 281.36 426.18 281.36 426.78 281.36 427.38 281.36 427.98 281.36 428.58 281.36 429.18 281.36 429.78 281.36 430.38 281.36 430.98 281.36 431.58 281.36 432.18 281.36 432.78 281.36 433.38 281.36 433.98 281.36 434.58 281.36 435.18 281.36 435.78 281.36 436.38 281.36 436.98 281.36 437.58 281.36 438.18 281.36 438.78 281.36 439.38 281.36 439.98 281.36 440.58 281.36 441.18 281.36 441.78 281.36 442.38 281.36 442.98 281.36 443.58 281.36 444.18 281.36 444.78 281.36 445.38 281.36 445.98 281.36 446.58 281.36 447.18 281.36 447.78 281.36 448.38 281.36 448.98 281.36 449.58 281.36 450.18 281.36 450.78 281.36 451.38 281.36 451.98 281.36 452.58 281.36 453.18 281.36 453.78 281.36 454.38 281.36 454.98 281.36 455.58 281.36 456.18 281.36 456.78 281.36 457.38 281.36 457.98 281.36 458.58 281.36 459.18 281.36 459.78 281.36 460.38 281.36 460.98 281.36 461.58 281.36 462.18 281.36 462.78 281.36 463.38 281.36 463.98 281.36 464.58 281.36 465.18 281.36 465.78 281.36 466.38 281.36 466.98 281.36 467.58 281.36 468.18 281.36 468.78 281.36 469.38 281.36 469.98 281.36 470.58 281.36 471.18 281.36 471.78 281.36 472.38 281.36 472.98 281.36 473.58 281.36 474.18 281.36 474.78 281.36 475.38 281.36 475.98 281.36 476.58 281.36 477.18 281.36 477.78 281.36 478.38 281.36 478.98 281.36 479.58 281.36 480.18 281.36 480.78 281.36 481.38 281.36 481.98 281.36 482.58 281.36 483.18 281.36 483.78 281.36 484.38 281.36 484.98 281.36 485.58 281.36 486.18 281.36 486.78 281.36 487.38 281.36 487.98 281.36 488.58 281.36 489.18 281.36 489.78 281.36 490.38 281.36 490.98 281.36 491.58 281.36 492.18 281.36 492.78 281.36 493.38 281.36 493.98 281.36 494.58 281.36 495.18 281.36 495.78 281.36 496.38 281.36 496.98 281.36 497.58 281.36 498.18 281.36 498.78 281.36 499.38 281.36 499.98 281.36 500.58 281.36 501.18 281.36 501.78 281.36 502.38 281.36 502.98 281.36 503.58 281.36 504.18 281.36 504.78 281.36 505.38 281.36 505.98 281.36 506.58 281.36 507.18 281.36 507.78 281.36 508.38 281.36 508.98 281.36 509.58 281.36 510.18 281.36 510.78 281.36 511.38 281.36 511.98 281.36 512.58 281.36 513.18 281.36 513.78 281.36 514.38 281.36 514.98 281.36 515.58 281.36 516.18 281.36 516.78 281.36 517.38 281.36 517.98 281.36 518.58 281.36 519.18 281.36 519.78 281.36 520.38 281.36 520.98 281.36 521.58 281.36 522.18 281.36 522.78 281.36 523.39 281.36 523.99 281.36 524.59 281.36 525.19 281.36 525.79 281.36 526.39 281.36 526.99 281.36 527.59 281.36 528.19 281.36 528.79 281.36 529.39 281.36 529.99 281.36 530.59 281.36 531.19 281.36 531.79 281.36 532.39 281.36 532.99 281.36 533.59 281.36 534.19 281.36 534.79 281.36 535.39 281.36 535.99 281.36 536.59 281.36 537.19 281.36 537.79 281.36 538.39 281.36 538.99 281.36 539.59 281.36 540.19 281.36 540.79 281.36 541.39 281.36 541.99 281.36 542.59 281.36 543.19 281.36 543.79 281.36 544.39 281.36 544.99 281.36 545.59 281.36 546.19 281.36 546.79 281.36 547.39 281.36 547.99 281.36 548.59 281.36 549.19 281.36 549.79 281.36 550.39 281.36 550.99 281.36 551.59 281.36 552.19 281.36 552.79 281.36 553.39 281.36 553.99 281.36 554.59 281.36 555.19 281.36 555.79 281.36 556.39 281.36 556.99 281.36 557.59 281.36 558.19 281.36 558.79 281.36 559.39 281.36 559.99 281.36 560.59 281.36 561.19 281.36 561.79 281.36 562.39 281.36 562.50 281.36" stroke="#f08a00" stroke-width="2" fill="none" stroke-dasharray="7.1 10.628" stroke-dashoffset="0.45" clip-path="url(#clip)"/>
<path d="M131.50 108.98 131.57 109.57 131.65 110.17 131.73 110.76 131.80 111.36 131.88 111.95 131.95 112.55 132.03 113.14 132.11 113.73 132.18 114.33 132.26 114.92 132.34 115.51 132.42 116.11 132.49 116.70 132.57 117.30 132.65 117.89 132.73 118.48 132.81 119.08 132.89 119.67 132.97 120.26 133.05 120.86 133.13 121.45 133.21 122.04 133.29 122.64 133.37 123.23 133.45 123.82 133.54 124.42 133.62 125.01 133.70 125.60 133.78 126.20 133.87 126.79 133.95 127.38 134.04 127.98 134.12 128.57 134.20 129.16 134.29 129.76 134.37 130.35 134.46 130.94 134.55 131.53 134.63 132.13 134.72 132.72 134.80 133.31 134.89 133.90 134.98 134.50 135.07 135.09 135.16 135.68 135.24 136.27 135.33 136.86 135.42 137.46 135.51 138.05 135.60 138.64 135.69 139.23 135.78 139.82 135.87 140.42 135.97 141.01 136.06 141.60 136.15 142.19 136.24 142.78 136.34 143.37 136.43 143.97 136.52 144.56 136.62 145.15 136.71 145.74 136.81 146.33 136.90 146.92 137.00 147.51 137.09 148.10 137.19 148.69 137.29 149.28 137.39 149.88 137.48 150.47 137.58 151.06 137.68 151.65 137.78 152.24 137.88 152.83 137.98 153.42 138.08 154.01 138.18 154.60 138.28 155.19 138.39 155.78 138.49 156.37 138.59 156.96 138.70 157.55 138.80 158.14 138.90 158.73 139.01 159.31 139.12 159.90 139.22 160.49 139.33 161.08 139.43 161.67 139.54 162.26 139.65 162.85 139.76 163.44 139.87 164.03 139.98 164.61 140.09 165.20 140.20 165.79 140.31 166.38 140.42 166.97 140.53 167.55 140.65 168.14 140.76 168.73 140.88 169.32 140.99 169.90 141.11 170.49 141.22 171.08 141.34 171.67 141.46 172.25 141.57 172.84 141.69 173.43 141.81 174.01 141.93 174.60 142.05 175.18 142.17 175.77 142.29 176.36 142.42 176.94 142.54 177.53 142.66 178.11 142.79 178.70 142.91 179.28 143.04 179.87 143.16 180.45 143.29 181.04 143.42 181.62 143.55 182.21 143.68 182.79 143.81 183.37 143.94 183.96 144.07 184.54 144.20 185.13 144.34 185.71 144.47 186.29 144.60 186.87 144.74 187.46 144.88 188.04 145.01 188.62 145.15 189.20 145.29 189.79 145.43 190.37 145.57 190.95 145.71 191.53 145.86 192.11 146.00 192.69 146.14 193.27 146.29 193.85 146.43 194.43 146.58 195.01 146.73 195.59 146.88 196.17 147.03 196.75 147.18 197.33 147.33 197.91 147.48 198.48 147.64 199.06 147.79 199.64 147.95 200.22 148.10 200.79 148.26 201.37 148.42 201.95 148.58 202.52 148.74 203.10 148.91 203.67 149.07 204.25 149.23 204.82 149.40 205.40 149.57 205.97 149.74 206.55 149.91 207.12 150.08 207.69 150.25 208.26 150.42 208.84 150.60 209.41 150.77 209.98 150.95 210.55 151.13 211.12 151.31 211.69 151.49 212.26 151.67 212.83 151.86 213.40 152.04 213.97 152.23 214.53 152.42 215.10 152.61 215.67 152.80 216.23 152.99 216.80 153.19 217.36 153.38 217.93 153.58 218.49 153.78 219.06 153.98 219.62 154.19 220.18 154.39 220.74 154.60 221.30 154.80 221.86 155.01 222.42 155.23 222.98 155.44 223.54 155.66 224.10 155.87 224.65 156.09 225.21 156.31 225.76 156.54 226.32 156.76 226.87 156.99 227.42 157.22 227.97 157.45 228.52 157.68 229.07 157.92 229.62 158.16 230.17 158.40 230.72 158.64 231.26 158.88 231.81 159.13 232.35 159.38 232.89 159.63 233.44 159.88 233.98 160.14 234.52 160.40 235.05 160.66 235.59 160.93 236.13 161.19 236.66 161.46 237.19 161.74 237.72 162.01 238.25 162.29 238.78 162.57 239.31 162.85 239.83 163.14 240.36 163.43 240.88 163.72 241.40 164.02 241.92 164.32 242.43 164.62 242.95 164.92 243.46 165.23 243.97 165.54 244.48 165.86 244.99 166.17 245.50 166.50 246.00 166.82 246.50 167.15 247.00 167.48 247.49 167.82 247.99 168.16 248.48 168.50 248.97 168.84 249.45 169.20 249.94 169.55 250.42 169.91 250.89 170.27 251.37 170.63 251.84 171.00 252.31 171.38 252.77 171.75 253.24 172.14 253.70 172.52 254.15 172.91 254.60 173.30 255.05 173.70 255.50 174.10 255.94 174.51 256.38 174.92 256.81 175.33 257.24 175.75 257.67 176.17 258.09 176.60 258.51 177.03 258.92 177.47 259.33 177.91 259.73 178.35 260.13 178.80 260.53 179.25 260.92 179.71 261.31 180.16 261.69 180.63 262.06 181.10 262.43 181.57 262.80 182.04 263.16 182.52 263.52 183.01 263.87 183.49 264.22 183.99 264.56 184.48 264.89 184.98 265.22 185.48 265.55 185.99 265.87 186.49 266.18 187.01 266.49 187.52 266.80 188.04 267.09 188.56 267.39 189.09 267.67 189.61 267.96 190.15 268.23 190.68 268.50 191.22 268.77 191.75 269.03 192.30 269.29 192.84 269.54 193.39 269.78 193.93 270.02 194.49 270.26 195.04 270.49 195.59 270.71 196.15 270.93 196.71 271.14 197.27 271.35 197.83 271.56 198.40 271.76 198.96 271.96 199.53 272.15 200.10 272.33 200.67 272.52 201.24 272.69 201.82 272.87 202.39 273.04 202.97 273.20 203.55 273.36 204.13 273.52 204.70 273.67 205.29 273.82 205.87 273.97 206.45 274.11 207.03 274.25 207.62 274.39 208.20 274.52 208.79 274.64 209.37 274.77 209.96 274.89 210.55 275.01 211.14 275.13 211.73 275.24 212.32 275.35 212.91 275.45 213.50 275.56 214.09 275.66 214.68 275.76 215.27 275.85 215.87 275.95 216.46 276.04 217.05 276.12 217.64 276.21 218.24 276.29 218.83 276.38 219.43 276.45 220.02 276.53 220.62 276.61 221.21 276.68 221.81 276.75 222.40 276.82 223.00 276.89 223.60 276.95 224.19 277.02 224.79 277.08 225.39 277.14 225.98 277.20 226.58 277.25 227.18 277.31 227.78 277.36 228.37 277.42 228.97 277.47 229.57 277.52 230.17 277.56 230.77 277.61 231.36 277.66 231.96 277.70 232.56 277.74 233.16 277.79 233.76 277.83 234.36 277.87 234.96 277.91 235.55 277.94 236.15 277.98 236.75 278.02 237.35 278.05 237.95 278.08 238.55 278.12 239.15 278.15 239.75 278.18 240.35 278.21 240.95 278.24 241.55 278.27 242.14 278.29 242.74 278.32 243.34 278.35 243.94 278.37 244.54 278.40 245.14 278.42 245.74 278.45 246.34 278.47 246.94 278.49 247.54 278.51 248.14 278.53 248.74 278.55 249.34 278.57 249.94 278.59 250.54 278.61 251.14 278.63 251.74 278.65 252.34 278.66 252.94 278.68 253.54 278.70 254.14 278.71 254.74 278.73 255.34 278.74 255.94 278.76 256.54 278.77 257.14 278.79 257.74 278.80 258.34 278.81 258.94 278.82 259.54 278.84 260.14 278.85 260.74 278.86 261.34 278.87 261.94 278.88 262.54 278.89 263.14 278.90 263.74 278.91 264.34 278.92 264.94 278.93 265.54 278.94 266.14 278.95 266.74 278.96 267.34 278.97 267.94 278.98 268.54 278.99 269.14 278.99 269.74 279.00 270.33 279.01 270.93 279.02 271.53 279.02 272.13 279.03 272.73 279.04 273.33 279.04 273.93 279.05 274.53 279.05 275.13 279.06 275.73 279.07 276.33 279.07 276.93 279.08 277.53 279.08 278.13 279.09 278.73 279.09 279.33 279.10 279.93 279.10 280.53 279.11 281.13 279.11 281.73 279.12 282.33 279.12 282.93 279.12 283.53 279.13 284.13 279.13 284.73 279.14 285.33 279.14 285.93 279.14 286.53 279.15 287.13 279.15 287.73 279.15 288.33 279.16 288.93 279.16 289.53 279.16 290.13 279.17 290.73 279.17 291.33 279.17 291.93 279.17 292.53 279.18 293.13 279.18 293.73 279.18 294.33 279.18 294.93 279.19 295.53 279.19 296.13 279.19 296.73 279.19 297.33 279.20 297.93 279.20 298.53 279.20 299.13 279.20 299.73 279.20 300.33 279.21 300.93 279.21 301.53 279.21 302.13 279.21 302.73 279.21 303.33 279.21 303.93 279.22 304.53 279.22 305.14 279.22 305.74 279.22 306.34 279.22 306.94 279.22 307.54 279.22 308.14 279.23 308.74 279.23 309.34 279.23 309.94 279.23 310.54 279.23 311.14 279.23 311.74 279.23 312.34 279.23 312.94 279.23 313.54 279.24 314.14 279.24 314.74 279.24 315.34 279.24 315.94 279.24 316.54 279.24 317.14 279.24 317.74 279.24 318.34 279.24 318.94 279.24 319.54 279.24 320.14 279.24 320.74 279.25 321.34 279.25 321.94 279.25 322.54 279.25 323.14 279.25 323.74 279.25 324.34 279.25 324.94 279.25 325.54 279.25 326.14 279.25 326.74 279.25 327.34 279.25 327.94 279.25 328.54 279.25 329.14 279.25 329.74 279.25 330.34 279.25 330.94 279.25 331.54 279.25 332.14 279.26 332.74 279.26 333.34 279.26 333.94 279.26 334.54 279.26 335.14 279.26 335.74 279.26 336.34 279.26 336.94 279.26 337.54 279.26 338.14 279.26 338.74 279.26 339.34 279.26 339.94 279.26 340.54 279.26 341.14 279.26 341.74 279.26 342.34 279.26 342.94 279.26 343.54 279.26 344.14 279.26 344.74 279.26 345.34 279.26 345.94 279.26 346.54 279.26 347.14 279.26 347.74 279.26 348.34 279.26 348.94 279.26 349.54 279.26 350.14 279.26 350.74 279.26 351.34 279.26 351.94 279.26 352.54 279.26 353.14 279.26 353.74 279.26 354.34 279.26 354.94 279.26 355.54 279.27 356.14 279.27 356.74 279.27 357.34 279.27 357.94 279.27 358.54 279.27 359.14 279.27 359.74 279.27 360.34 279.27 360.94 279.27 361.54 279.27 362.14 279.27 362.74 279.27 363.34 279.27 363.94 279.27 364.54 279.27 365.14 279.27 365.74 279.27 366.34 279.27 366.94 279.27 367.54 279.27 368.14 279.27 368.74 279.27 369.34 279.27 369.94 279.27 370.54 279.27 371.14 279.27 371.74 279.27 372.34 279.27 372.94 279.27 373.54 279.27 374.14 279.27 374.74 279.27 375.34 279.27 375.94 279.27 376.54 279.27 377.14 279.27 377.74 279.27 378.34 279.27 378.94 279.27 379.54 279.27 380.14 279.27 380.74 279.27 381.34 279.27 381.94 279.27 382.54 279.27 383.14 279.27 383.74 279.27 384.34 279.27 384.94 279.27 385.54 279.27 386.14 279.27 386.74 279.27 387.34 279.27 387.94 279.27 388.54 279.27 389.14 279.27 389.74 279.27 390.34 279.27 390.94 279.27 391.54 279.27 392.14 279.27 392.74 279.27 393.34 279.27 393.94 279.27 394.54 279.27 395.14 279.27 395.74 279.27 396.34 279.27 396.94 279.27 397.54 279.27 398.14 279.27 398.74 279.27 399.34 279.27 399.94 279.27 400.54 279.27 401.14 279.27 401.74 279.27 402.34 279.27 402.94 279.27 403.54 279.27 404.14 279.27 404.74 279.27 405.34 279.27 405.94 279.27 406.54 279.27 407.14 279.27 407.74 279.27 408.34 279.27 408.94 279.27 409.54 279.27 410.14 279.27 410.74 279.27 411.34 279.27 411.94 279.27 412.54 279.27 413.14 279.27 413.74 279.27 414.34 279.27 414.94 279.27 415.54 279.27 416.14 279.27 416.74 279.27 417.34 279.27 417.94 279.27 418.54 279.27 419.14 279.27 419.74 279.27 420.34 279.27 420.94 279.27 421.54 279.27 422.14 279.27 422.74 279.27 423.34 279.27 423.94 279.27 424.54 279.27 425.14 279.27 425.74 279.27 426.34 279.27 426.94 279.27 427.54 279.27 428.14 279.27 428.74 279.27 429.34 279.27 429.94 279.27 430.54 279.27 431.14 279.27 431.74 279.27 432.34 279.27 432.94 279.27 433.54 279.27 434.14 279.27 434.74 279.27 435.34 279.27 435.94 279.27 436.54 279.27 437.14 279.27 437.74 279.27 438.34 279.27 438.94 279.27 439.54 279.27 440.14 279.27 440.74 279.27 441.34 279.27 441.94 279.27 442.54 279.27 443.14 279.27 443.74 279.27 444.34 279.27 444.94 279.27 445.54 279.27 446.14 279.27 446.74 279.27 447.34 279.27 447.94 279.27 448.54 279.27 449.14 279.27 449.74 279.27 450.34 279.27 450.94 279.27 451.54 279.27 452.14 279.27 452.74 279.27 453.34 279.27 453.94 279.27 454.54 279.27 455.14 279.27 455.74 279.27 456.34 279.27 456.94 279.27 457.54 279.27 458.14 279.27 458.74 279.27 459.34 279.27 459.94 279.27 460.54 279.27 461.14 279.27 461.74 279.27 462.34 279.27 462.94 279.27 463.54 279.27 464.14 279.27 464.74 279.27 465.34 279.27 465.94 279.27 466.54 279.27 467.14 279.27 467.74 279.27 468.34 279.27 468.94 279.27 469.54 279.27 470.14 279.27 470.74 279.27 471.34 279.27 471.94 279.27 472.54 279.27 473.14 279.27 473.74 279.27 474.34 279.27 474.94 279.27 475.54 279.27 476.14 279.27 476.74 279.27 477.34 279.27 477.94 279.27 478.54 279.27 479.14 279.27 479.74 279.27 480.34 279.27 480.94 279.27 481.54 279.27 482.14 279.27 482.74 279.27 483.34 279.27 483.94 279.27 484.54 279.27 485.14 279.27 485.74 279.27 486.34 279.27 486.94 279.27 487.54 279.27 488.14 279.27 488.74 279.27 489.34 279.27 489.94 279.27 490.54 279.27 491.14 279.27 491.74 279.27 492.34 279.27 492.94 279.27 493.54 279.27 494.14 279.27 494.74 279.27 495.34 279.27 495.94 279.27 496.54 279.27 497.14 279.27 497.74 279.27 498.34 279.27 498.94 279.27 499.54 279.27 500.14 279.27 500.74 279.27 501.34 279.27 501.94 279.27 502.54 279.27 503.14 279.27 503.74 279.27 504.34 279.27 504.94 279.27 505.54 279.27 506.14 279.27 506.74 279.27 507.34 279.27 507.94 279.27 508.54 279.27 509.14 279.27 509.74 279.27 510.34 279.27 510.94 279.27 511.54 279.27 512.14 279.27 512.74 279.27 513.34 279.27 513.94 279.27 514.54 279.27 515.14 279.27 515.74 279.27 516.34 279.27 516.94 279.27 517.54 279.27 518.14 279.27 518.74 279.27 519.34 279.27 519.94 279.27 520.54 279.27 521.14 279.27 521.74 279.27 522.34 279.27 522.94 279.27 523.54 279.27 524.14 279.27 524.74 279.27 525.34 279.27 525.94 279.27 526.54 279.27 527.14 279.27 527.74 279.27 528.34 279.27 528.94 279.27 529.54 279.27 530.14 279.27 530.74 279.27 531.34 279.27 531.94 279.27 532.54 279.27 533.14 279.27 533.74 279.27 534.34 279.27 534.94 279.27 535.54 279.27 536.14 279.27 536.74 279.27 537.34 279.27 537.94 279.27 538.54 279.27 539.14 279.27 539.74 279.27 540.34 279.27 540.94 279.27 541.54 279.27 542.14 279.27 542.74 279.27 543.34 279.27 543.94 279.27 544.54 279.27 545.14 279.27 545.74 279.27 546.34 279.27 546.94 279.27 547.54 279.27 548.14 279.27 548.74 279.27 549.34 279.27 549.94 279.27 550.54 279.27 551.14 279.27 551.74 279.27 552.34 279.27 552.94 279.27 553.54 279.27 554.14 279.27 554.74 279.27 555.34 279.27 555.94 279.27 556.54 279.27 557.14 279.27 557.74 279.27 558.34 279.27 558.94 279.27 559.54 279.27 560.14 279.27 560.74 279.27 561.34 279.27 561.94 279.27 562.50 279.27" stroke="#00e450" stroke-width="2" fill="none" stroke-dasharray="3.6 5.263" stroke-dashoffset="2.5" clip-path="url(#clip)"/>
<path d="M133.46 18.00 133.48 18.60 133.49 19.20 133.50 19.80 133.52 20.40 133.53 21.00 133.54 21.60 133.56 22.19 133.57 22.79 133.58 23.39 133.60 23.99 133.61 24.59 133.62 25.19 133.64 25.79 133.65 26.39 133.66 26.99 133.68 27.59 133.69 28.19 133.71 28.78 133.72 29.38 133.73 29.98 133.75 30.58 133.76 31.18 133.78 31.78 133.79 32.38 133.80 32.98 133.82 33.58 133.83 34.18 133.85 34.78 133.86 35.38 133.87 35.97 133.89 36.57 133.90 37.17 133.92 37.77 133.93 38.37 133.95 38.97 133.96 39.57 133.97 40.17 133.99 40.77 134.00 41.37 134.02 41.97 134.03 42.56 134.05 43.16 134.06 43.76 134.08 44.36 134.09 44.96 134.11 45.56 134.12 46.16 134.14 46.76 134.15 47.36 134.17 47.96 134.18 48.56 134.19 49.15 134.21 49.75 134.23 50.35 134.24 50.95 134.26 51.55 134.27 52.15 134.29 52.75 134.30 53.35 134.32 53.95 134.33 54.55 134.35 55.14 134.36 55.74 134.38 56.34 134.39 56.94 134.41 57.54 134.42 58.14 134.44 58.74 134.46 59.34 134.47 59.94 134.49 60.54 134.50 61.13 134.52 61.73 134.53 62.33 134.55 62.93 134.57 63.53 134.58 64.13 134.60 64.73 134.61 65.33 134.63 65.93 134.65 66.53 134.66 67.12 134.68 67.72 134.70 68.32 134.71 68.92 134.73 69.52 134.74 70.12 134.76 70.72 134.78 71.32 134.79 71.92 134.81 72.52 134.83 73.11 134.84 73.71 134.86 74.31 134.88 74.91 134.89 75.51 134.91 76.11 134.93 76.71 134.94 77.31 134.96 77.91 134.98 78.50 135.00 79.10 135.01 79.70 135.03 80.30 135.05 80.90 135.07 81.50 135.08 82.10 135.10 82.70 135.12 83.30 135.14 83.89 135.15 84.49 135.17 85.09 135.19 85.69 135.21 86.29 135.22 86.89 135.24 87.49 135.26 88.09 135.28 88.68 135.30 89.28 135.31 89.88 135.33 90.48 135.35 91.08 135.37 91.68 135.39 92.28 135.40 92.88 135.42 93.48 135.44 94.07 135.46 94.67 135.48 95.27 135.50 95.87 135.52 96.47 135.53 97.07 135.55 97.67 135.57 98.27 135.59 98.86 135.61 99.46 135.63 100.06 135.65 100.66 135.67 101.26 135.69 101.86 135.71 102.46 135.73 103.05 135.75 103.65 135.76 104.25 135.78 104.85 135.80 105.45 135.82 106.05 135.84 106.65 135.86 107.25 135.88 107.84 135.90 108.44 135.92 109.04 135.94 109.64 135.96 110.24 135.98 110.84 136.00 111.44 136.02 112.03 136.04 112.63 136.07 113.23 136.09 113.83 136.11 114.43 136.13 115.03 136.15 115.63 136.17 116.23 136.19 116.82 136.21 117.42 136.23 118.02 136.25 118.62 136.27 119.22 136.30 119.82 136.32 120.41 136.34 121.01 136.36 121.61 136.38 122.21 136.40 122.81 136.43 123.41 136.45 124.01 136.47 124.60 136.49 125.20 136.51 125.80 136.54 126.40 136.56 127.00 136.58 127.60 136.60 128.20 136.62 128.79 136.65 129.39 136.67 129.99 136.69 130.59 136.72 131.19 136.74 131.79 136.76 132.38 136.79 132.98 136.81 133.58 136.83 134.18 136.86 134.78 136.88 135.38 136.90 135.97 136.93 136.57 136.95 137.17 136.97 137.77 137.00 138.37 137.02 138.97 137.05 139.56 137.07 140.16 137.09 140.76 137.12 141.36 137.14 141.96 137.17 142.56 137.19 143.15 137.22 143.75 137.24 144.35 137.27 144.95 137.29 145.55 137.32 146.14 137.34 146.74 137.37 147.34 137.40 147.94 137.42 148.54 137.45 149.14 137.47 149.73 137.50 150.33 137.53 150.93 137.55 151.53 137.58 152.13 137.60 152.72 137.63 153.32 137.66 153.92 137.69 154.52 137.71 155.12 137.74 155.71 137.77 156.31 137.79 156.91 137.82 157.51 137.85 158.11 137.88 158.70 137.91 159.30 137.93 159.90 137.96 160.50 137.99 161.10 138.02 161.69 138.05 162.29 138.08 162.89 138.10 163.49 138.13 164.08 138.16 164.68 138.19 165.28 138.22 165.88 138.25 166.48 138.28 167.07 138.31 167.67 138.34 168.27 138.37 168.87 138.40 169.46 138.43 170.06 138.46 170.66 138.49 171.26 138.52 171.86 138.56 172.45 138.59 173.05 138.62 173.65 138.65 174.25 138.68 174.84 138.71 175.44 138.75 176.04 138.78 176.64 138.81 177.23 138.84 177.83 138.88 178.43 138.91 179.03 138.94 179.62 138.98 180.22 139.01 180.82 139.04 181.42 139.08 182.01 139.11 182.61 139.15 183.21 139.18 183.80 139.22 184.40 139.25 185.00 139.29 185.60 139.32 186.19 139.36 186.79 139.39 187.39 139.43 187.98 139.47 188.58 139.50 189.18 139.54 189.78 139.58 190.37 139.61 190.97 139.65 191.57 139.69 192.16 139.73 192.76 139.77 193.36 139.80 193.95 139.84 194.55 139.88 195.15 139.92 195.74 139.96 196.34 140.00 196.94 140.04 197.53 140.08 198.13 140.12 198.73 140.16 199.32 140.20 199.92 140.24 200.52 140.29 201.11 140.33 201.71 140.37 202.31 140.41 202.90 140.45 203.50 140.50 204.10 140.54 204.69 140.58 205.29 140.63 205.88 140.67 206.48 140.72 207.08 140.76 207.67 140.81 208.27 140.85 208.86 140.90 209.46 140.95 210.06 140.99 210.65 141.04 211.25 141.09 211.84 141.14 212.44 141.19 213.03 141.23 213.63 141.28 214.22 141.33 214.82 141.38 215.42 141.43 216.01 141.48 216.61 141.54 217.20 141.59 217.80 141.64 218.39 141.69 218.99 141.75 219.58 141.80 220.18 141.85 220.77 141.91 221.37 141.96 221.96 142.02 222.56 142.07 223.15 142.13 223.74 142.19 224.34 142.25 224.93 142.30 225.53 142.36 226.12 142.42 226.72 142.48 227.31 142.54 227.90 142.60 228.50 142.67 229.09 142.73 229.68 142.79 230.28 142.86 230.87 142.92 231.46 142.99 232.06 143.05 232.65 143.12 233.24 143.19 233.84 143.25 234.43 143.32 235.02 143.39 235.61 143.46 236.21 143.54 236.80 143.61 237.39 143.68 237.98 143.76 238.57 143.83 239.17 143.91 239.76 143.98 240.35 144.06 240.94 144.14 241.53 144.22 242.12 144.30 242.71 144.38 243.30 144.47 243.89 144.55 244.48 144.64 245.07 144.72 245.66 144.81 246.25 144.90 246.84 144.99 247.43 145.08 248.02 145.18 248.60 145.27 249.19 145.37 249.78 145.47 250.37 145.57 250.95 145.67 251.54 145.77 252.12 145.87 252.71 145.98 253.30 146.09 253.88 146.20 254.46 146.31 255.05 146.43 255.63 146.54 256.21 146.66 256.80 146.78 257.38 146.91 257.96 147.03 258.54 147.16 259.12 147.29 259.70 147.43 260.28 147.56 260.85 147.70 261.43 147.85 262.01 147.99 262.58 148.14 263.15 148.30 263.73 148.45 264.30 148.61 264.87 148.78 265.44 148.95 266.01 149.12 266.57 149.30 267.14 149.49 267.70 149.68 268.26 149.87 268.82 150.07 269.37 150.28 269.93 150.49 270.48 150.71 271.02 150.94 271.57 151.17 272.11 151.41 272.65 151.66 273.18 151.92 273.71 152.19 274.24 152.47 274.76 152.76 275.27 153.06 275.77 153.37 276.27 153.70 276.77 154.03 277.25 154.38 277.72 154.75 278.19 155.12 278.64 155.52 279.08 155.92 279.50 156.34 279.92 156.78 280.31 157.23 280.69 157.70 281.06 158.18 281.40 158.67 281.73 159.17 282.04 159.69 282.33 160.22 282.60 160.76 282.85 161.31 283.09 161.86 283.30 162.43 283.50 162.99 283.69 163.57 283.85 164.15 284.01 164.73 284.15 165.31 284.28 165.90 284.39 166.49 284.50 167.08 284.59 167.67 284.68 168.27 284.76 168.86 284.83 169.46 284.89 170.06 284.95 170.66 285.00 171.25 285.05 171.85 285.09 172.45 285.13 173.05 285.17 173.65 285.20 174.25 285.23 174.85 285.26 175.45 285.28 176.05 285.30 176.65 285.32 177.24 285.34 177.84 285.35 178.44 285.37 179.04 285.38 179.64 285.39 180.24 285.40 180.84 285.41 181.44 285.42 182.04 285.43 182.64 285.43 183.24 285.44 183.84 285.45 184.44 285.45 185.04 285.46 185.64 285.46 186.24 285.46 186.84 285.47 187.44 285.47 188.04 285.47 188.64 285.48 189.24 285.48 189.84 285.48 190.44 285.48 191.04 285.48 191.64 285.49 192.24 285.49 192.84 285.49 193.44 285.49 194.04 285.49 194.64 285.49 195.24 285.49 195.84 285.49 196.44 285.49 197.04 285.49 197.64 285.49 198.24 285.50 198.84 285.50 199.44 285.50 200.04 285.50 200.64 285.50 201.24 285.50 201.84 285.50 202.44 285.50 203.04 285.50 203.64 285.50 204.24 285.50 204.84 285.50 205.44 285.50 206.04 285.50 206.64 285.50 207.24 285.50 207.84 285.50 208.44 285.50 209.04 285.50 209.64 285.50 210.24 285.50 210.84 285.50 211.44 285.50 212.04 285.50 212.64 285.50 213.24 285.50 213.84 285.50 214.44 285.50 215.04 285.50 215.64 285.50 216.24 285.50 216.84 285.50 217.44 285.50 218.04 285.50 218.64 285.50 219.24 285.50 219.84 285.50 220.44 285.50 221.04 285.50 221.64 285.50 222.24 285.50 222.84 285.50 223.44 285.50 224.04 285.50 224.64 285.50 225.24 285.50 225.84 285.50 226.44 285.50 227.04 285.50 227.64 285.50 228.24 285.50 228.84 285.50 229.44 285.50 230.04 285.50 230.64 285.50 231.24 285.50 231.85 285.50 232.45 285.50 233.05 285.50 233.65 285.50 234.25 285.50 234.85 285.50 235.45 285.50 236.05 285.50 236.65 285.50 237.25 285.50 237.85 285.50 238.45 285.50 239.05 285.50 239.65 285.50 240.25 285.50 240.85 285.50 241.45 285.50 242.05 285.50 242.65 285.50 243.25 285.50 243.85 285.50 244.45 285.50 245.05 285.50 245.65 285.50 246.25 285.50 246.85 285.50 247.45 285.50 248.05 285.50 248.65 285.50 249.25 285.50 249.85 285.50 250.45 285.50 251.05 285.50 251.65 285.50 252.25 285.50 252.85 285.50 253.45 285.50 254.05 285.50 254.65 285.50 255.25 285.50 255.85 285.50 256.45 285.50 257.05 285.50 257.65 285.50 258.25 285.50 258.85 285.50 259.45 285.50 260.05 285.50 260.65 285.50 261.25 285.50 261.85 285.50 262.45 285.50 263.05 285.50 263.65 285.50 264.25 285.50 264.85 285.50 265.45 285.50 266.05 285.50 266.65 285.50 267.25 285.50 267.85 285.50 268.45 285.50 269.05 285.50 269.65 285.50 270.25 285.50 270.85 285.50 271.45 285.50 272.05 285.50 272.65 285.50 273.25 285.50 273.85 285.50 274.45 285.50 275.05 285.50 275.65 285.50 276.25 285.50 276.85 285.50 277.45 285.50 278.05 285.50 278.65 285.50 279.25 285.50 279.85 285.50 280.45 285.50 281.05 285.50 281.65 285.50 282.25 285.50 282.85 285.50 283.45 285.50 284.05 285.50 284.65 285.50 285.25 285.50 285.85 285.50 286.45 285.50 287.05 285.50 287.65 285.50 288.25 285.50 288.85 285.50 289.45 285.50 290.05 285.50 290.65 285.50 291.25 285.50 291.85 285.50 292.45 285.50 293.05 285.50 293.65 285.50 294.25 285.50 294.85 285.50 295.45 285.50 296.05 285.50 296.65 285.50 297.25 285.50 297.85 285.50 298.45 285.50 299.05 285.50 299.65 285.50 300.25 285.50 300.85 285.50 301.45 285.50 302.05 285.50 302.65 285.50 303.25 285.50 303.85 285.50 304.45 285.50 305.05 285.50 305.65 285.50 306.25 285.50 306.85 285.50 307.45 285.50 308.05 285.50 308.65 285.50 309.25 285.50 309.85 285.50 310.45 285.50 311.05 285.50 311.65 285.50 312.25 285.50 312.85 285.50 313.45 285.50 314.05 285.50 314.65 285.50 315.25 285.50 315.85 285.50 316.45 285.50 317.05 285.50 317.65 285.50 318.25 285.50 318.85 285.50 319.45 285.50 320.05 285.50 320.65 285.50 321.25 285.50 321.85 285.50 322.45 285.50 323.05 285.50 323.65 285.50 324.25 285.50 324.85 285.50 325.45 285.50 326.05 285.50 326.65 285.50 327.25 285.50 327.85 285.50 328.45 285.50 329.05 285.50 329.65 285.50 330.25 285.50 330.85 285.50 331.45 285.50 332.05 285.50 332.65 285.50 333.25 285.50 333.85 285.50 334.45 285.50 335.05 285.50 335.65 285.50 336.25 285.50 336.85 285.50 337.45 285.50 338.05 285.50 338.65 285.50 339.25 285.50 339.85 285.50 340.45 285.50 341.05 285.50 341.65 285.50 342.25 285.50 342.85 285.50 343.45 285.50 344.05 285.50 344.65 285.50 345.25 285.50 345.85 285.50 346.45 285.50 347.05 285.50 347.65 285.50 348.25 285.50 348.85 285.50 349.45 285.50 350.05 285.50 350.65 285.50 351.25 285.50 351.85 285.50 352.45 285.50 353.05 285.50 353.65 285.50 354.25 285.50 354.85 285.50 355.45 285.50 356.05 285.50 356.65 285.50 357.25 285.50 357.85 285.50 358.45 285.50 359.05 285.50 359.65 285.50 360.25 285.50 360.85 285.50 361.45 285.50 362.05 285.50 362.65 285.50 363.25 285.50 363.85 285.50 364.45 285.50 365.05 285.50 365.65 285.50 366.25 285.50 366.85 285.50 367.45 285.50 368.05 285.50 368.65 285.50 369.25 285.50 369.85 285.50 370.45 285.50 371.05 285.50 371.65 285.50 372.25 285.50 372.85 285.50 373.45 285.50 374.05 285.50 374.65 285.50 375.25 285.50 375.85 285.50 376.45 285.50 377.05 285.50 377.65 285.50 378.25 285.50 378.85 285.50 379.45 285.50 380.05 285.50 380.65 285.50 381.25 285.50 381.85 285.50 382.45 285.50 383.05 285.50 383.65 285.50 384.25 285.50 384.85 285.50 385.45 285.50 386.05 285.50 386.65 285.50 387.25 285.50 387.85 285.50 388.45 285.50 389.05 285.50 389.65 285.50 390.25 285.50 390.85 285.50 391.45 285.50 392.05 285.50 392.65 285.50 393.25 285.50 393.85 285.50 394.45 285.50 395.05 285.50 395.65 285.50 396.25 285.50 396.85 285.50 397.45 285.50 398.05 285.50 398.65 285.50 399.25 285.50 399.85 285.50 400.45 285.50 401.05 285.50 401.65 285.50 402.25 285.50 402.85 285.50 403.45 285.50 404.05 285.50 404.65 285.50 405.25 285.50 405.85 285.50 406.45 285.50 407.05 285.50 407.65 285.50 408.25 285.50 408.85 285.50 409.45 285.50 410.05 285.50 410.65 285.50 411.25 285.50 411.85 285.50 412.45 285.50 413.05 285.50 413.65 285.50 414.25 285.50 414.85 285.50 415.45 285.50 416.05 285.50 416.65 285.50 417.25 285.50 417.85 285.50 418.45 285.50 419.05 285.50 419.65 285.50 420.25 285.50 420.85 285.50 421.45 285.50 422.05 285.50 422.65 285.50 423.25 285.50 423.85 285.50 424.45 285.50 425.05 285.50 425.65 285.50 426.25 285.50 426.85 285.50 427.45 285.50 428.05 285.50 428.65 285.50 429.25 285.50 429.85 285.50 430.45 285.50 431.05 285.50 431.65 285.50 432.25 285.50 432.85 285.50 433.45 285.50 434.05 285.50 434.65 285.50 435.25 285.50 435.85 285.50 436.45 285.50 437.05 285.50 437.65 285.50 438.25 285.50 438.85 285.50 439.45 285.50 440.05 285.50 440.65 285.50 441.25 285.50 441.85 285.50 442.45 285.50 443.05 285.50 443.65 285.50 444.25 285.50 444.85 285.50 445.45 285.50 446.05 285.50 446.65 285.50 447.25 285.50 447.85 285.50 448.45 285.50 449.05 285.50 449.65 285.50 450.25 285.50 450.85 285.50 451.45 285.50 452.05 285.50 452.65 285.50 453.25 285.50 453.85 285.50 454.45 285.50 455.05 285.50 455.65 285.50 456.25 285.50 456.85 285.50 457.45 285.50 458.05 285.50 458.65 285.50 459.25 285.50 459.85 285.50 460.45 285.50 461.05 285.50 461.65 285.50 462.25 285.50 462.85 285.50 463.45 285.50 464.05 285.50 464.65 285.50 465.25 285.50 465.85 285.50 466.45 285.50 467.05 285.50 467.65 285.50 468.25 285.50 468.85 285.50 469.45 285.50 470.05 285.50 470.65 285.50 471.25 285.50 471.85 285.50 472.45 285.50 473.05 285.50 473.65 285.50 474.25 285.50 474.85 285.50 475.45 285.50 476.05 285.50 476.65 285.50 477.25 285.50 477.85 285.50 478.45 285.50 479.05 285.50 479.65 285.50 480.25 285.50 480.85 285.50 481.45 285.50 482.05 285.50 482.65 285.50 483.25 285.50 483.85 285.50 484.45 285.50 485.05 285.50 485.65 285.50 486.25 285.50 486.85 285.50 487.45 285.50 488.05 285.50 488.65 285.50 489.25 285.50 489.85 285.50 490.45 285.50 491.05 285.50 491.65 285.50 492.25 285.50 492.85 285.50 493.45 285.50 494.05 285.50 494.65 285.50 495.25 285.50 495.85 285.50 496.45 285.50 497.05 285.50 497.65 285.50 498.25 285.50 498.85 285.50 499.45 285.50 500.05 285.50 500.65 285.50 501.25 285.50 501.85 285.50 502.45 285.50 503.05 285.50 503.65 285.50 504.25 285.50 504.85 285.50 505.45 285.50 506.05 285.50 506.65 285.50 507.25 285.50 507.85 285.50 508.45 285.50 509.05 285.50 509.65 285.50 510.25 285.50 510.85 285.50 511.45 285.50 512.05 285.50 512.65 285.50 513.25 285.50 513.85 285.50 514.45 285.50 515.05 285.50 515.65 285.50 516.25 285.50 516.85 285.50 517.45 285.50 518.05 285.50 518.65 285.50 519.25 285.50 519.85 285.50 520.45 285.50 521.05 285.50 521.65 285.50 522.25 285.50 522.85 285.50 523.45 285.50 524.05 285.50 524.65 285.50 525.25 285.50 525.85 285.50 526.45 285.50 527.05 285.50 527.65 285.50 528.25 285.50 528.85 285.50 529.45 285.50 530.05 285.50 530.65 285.50 531.25 285.50 531.85 285.50 532.45 285.50 533.05 285.50 533.65 285.50 534.25 285.50 534.85 285.50 535.45 285.50 536.05 285.50 536.65 285.50 537.25 285.50 537.85 285.50 538.45 285.50 539.05 285.50 539.65 285.50 540.25 285.50 540.85 285.50 541.45 285.50 542.05 285.50 542.65 285.50 543.25 285.50 543.85 285.50 544.45 285.50 545.05 285.50 545.65 285.50 546.25 285.50 546.85 285.50 547.45 285.50 548.05 285.50 548.65 285.50 549.25 285.50 549.85 285.50 550.45 285.50 551.05 285.50 551.65 285.50 552.25 285.50 552.85 285.50 553.45 285.50 554.05 285.50 554.65 285.50 555.25 285.50 555.85 285.50 556.45 285.50 557.05 285.50 557.65 285.50 558.25 285.50 558.85 285.50 559.45 285.50 560.05 285.50 560.65 285.50 561.25 285.50 561.85 285.50 562.45 285.50 562.50 285.50" stroke="#0a40e4" stroke-width="2" fill="none" stroke-dasharray="3.6 5.276" stroke-dashoffset="0.47" clip-path="url(#clip)"/>
<rect x="131.5" y="18.0" width="431.0" height="324.3" stroke="#000" stroke-width="2.2" fill="none"/>
<text x="117" y="30.30" font-family="&apos;Liberation Serif&apos;, serif" font-size="36" text-anchor="end">0.04</text>
<text x="117" y="95.16" font-family="&apos;Liberation Serif&apos;, serif" font-size="36" text-anchor="end">0.03</text>
<text x="117" y="160.02" font-family="&apos;Liberation Serif&apos;, serif" font-size="36" text-anchor="end">0.02</text>
<text x="117" y="224.88" font-family="&apos;Liberation Serif&apos;, serif" font-size="36" text-anchor="end">0.01</text>
<text x="117" y="289.74" font-family="&apos;Liberation Serif&apos;, serif" font-size="36" text-anchor="end">0</text>
<text x="117" y="354.60" font-family="&apos;Liberation Serif&apos;, serif" font-size="36" text-anchor="end">−0.01</text>
<text x="135.65" y="379.8" font-family="&apos;Liberation Serif&apos;, serif" font-size="36.5" text-anchor="middle">0</text>
<text x="198.52" y="379.8" font-family="&apos;Liberation Serif&apos;, serif" font-size="36.5" text-anchor="middle">10</text>
<text x="258.69" y="379.8" font-family="&apos;Liberation Serif&apos;, serif" font-size="36.5" text-anchor="middle">20</text>
<text x="320.66" y="379.8" font-family="&apos;Liberation Serif&apos;, serif" font-size="36.5" text-anchor="middle">30</text>
<text x="382.09" y="379.8" font-family="&apos;Liberation Serif&apos;, serif" font-size="36.5" text-anchor="middle">40</text>
<text x="443.56" y="379.8" font-family="&apos;Liberation Serif&apos;, serif" font-size="36.5" text-anchor="middle">50</text>
<text x="505.63" y="379.8" font-family="&apos;Liberation Serif&apos;, serif" font-size="36.5" text-anchor="middle">60</text>
<text x="566.40" y="379.8" font-family="&apos;Liberation Serif&apos;, serif" font-size="36.5" text-anchor="middle">70</text>
<text x="346" y="416.5" font-family="&apos;Liberation Serif&apos;, serif" font-size="36" text-anchor="middle"><tspan font-style="italic">t</tspan> (s)</text>
<text transform="translate(31,180) rotate(-90)" font-family="&apos;Liberation Serif&apos;, serif" font-size="36" text-anchor="middle">Δ<tspan font-style="italic" dx="1.4">C</tspan><tspan dx="-1.8"> (wt.%)</tspan></text>
<text x="398.9" y="52.30" font-family="&apos;Liberation Serif&apos;, serif" font-size="28" text-anchor="end">15rad/s</text>
<path d="M451.4 43.30H530.8M451.4 37.90V48.70M530.8 37.90V48.70" stroke="#e03434" stroke-width="1.2" fill="none"/>
<path d="M485.40 40.60H496.60L491.00 49.10Z" stroke="#e03434" stroke-width="1.3" fill="none"/>
<text x="398.9" y="80.60" font-family="&apos;Liberation Serif&apos;, serif" font-size="28" text-anchor="end">21rad/s</text>
<path d="M451.4 71.60H530.8M451.4 66.20V77.00M530.8 66.20V77.00" stroke="#f09a30" stroke-width="1.2" fill="none"/>
<path d="M491.00 66.20L496.20 71.60L491.00 77.00L485.80 71.60Z" stroke="#f09a30" stroke-width="1.3" fill="none"/>
<text x="398.9" y="108.90" font-family="&apos;Liberation Serif&apos;, serif" font-size="28" text-anchor="end">32rad/s</text>
<path d="M451.4 99.90H530.8M451.4 94.50V105.30M530.8 94.50V105.30" stroke="#30e072" stroke-width="1.2" fill="none"/>
<circle cx="491.00" cy="99.90" r="5.5" stroke="#30e072" stroke-width="1.3" fill="none"/>
<text x="398.9" y="137.20" font-family="&apos;Liberation Serif&apos;, serif" font-size="28" text-anchor="end">66rad/s</text>
<path d="M451.4 128.20H530.8M451.4 122.80V133.60M530.8 122.80V133.60" stroke="#2468dc" stroke-width="1.2" fill="none"/>
<path d="M485.40 130.90H496.60L491.00 122.40Z" stroke="#2468dc" stroke-width="1.3" fill="none"/>
</svg>
</body></html>
